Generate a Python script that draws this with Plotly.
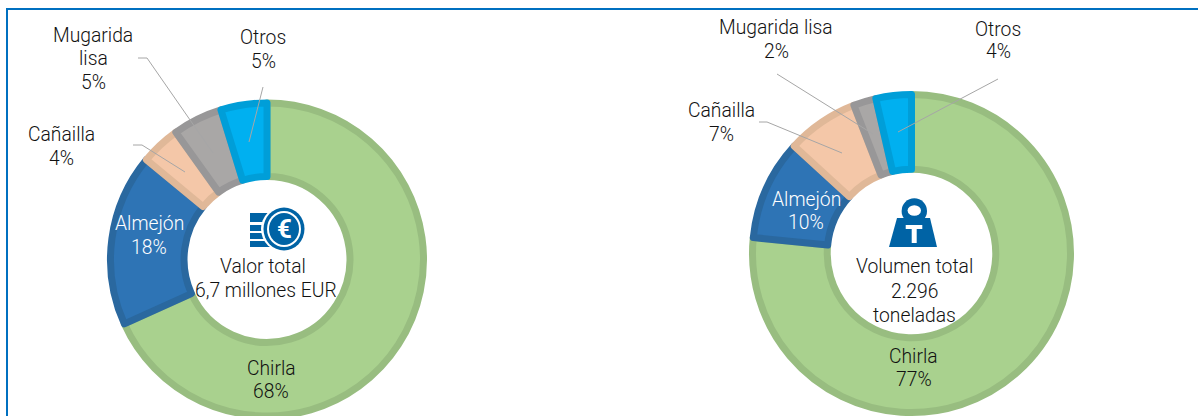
import plotly.graph_objects as go

W, H = 1198, 440
FONT = "Roboto"
TXT = "#111111"
ICON = "#0063A5"
GREY = "#A6A6A6"
FRAME = "#0070C0"

categories = ["Chirla", "Almejón", "Cañailla", "Mugarida lisa", "Otros"]
valor_values = [68.25, 17.75, 4.1, 5.15, 4.75]
volumen_values = [76.6, 10.2, 7.3, 2.3, 3.6]
fill_colors = ["#A9D18E", "#2E74B5", "#F4C7A8", "#A9A7A6", "#00B0F0"]
edge_colors = ["#98BD80", "#2A689F", "#E0B898", "#989798", "#009ED8"]

def X(px):
    return px / W

def Y(px):
    return 1 - px / H

def donut(values, cx, cy, r, hole, name):
    return go.Pie(
        labels=categories, values=values, name=name, hole=hole, sort=False,
        direction="clockwise", rotation=0, textinfo="none", showlegend=False,
        marker=dict(colors=fill_colors, line=dict(color=edge_colors, width=7)),
        domain=dict(x=[X(cx - r), X(cx + r)], y=[Y(cy + r), Y(cy - r)]),
    )

fig = go.Figure([
    donut(valor_values, 267, 259.5, 156.5, 0.53, "Valor"),
    donut(volumen_values, 911.5, 253.5, 159, 0.53, "Volumen"),
])

annotations = []

def label(text, x, y, color=TXT, size=19.3, weight=300):
    annotations.append(dict(text=text, x=X(x), y=Y(y), xref="paper", yref="paper",
                            showarrow=False, xanchor="center", yanchor="middle",
                            align="center",
                            font=dict(family=FONT, size=size, color=color, weight=weight)))

# left chart labels
label("Mugarida", 93, 35); label("lisa", 93, 59); label("5%", 93, 83)
label("Otros", 263, 37); label("5%", 263, 61)
label("Cañailla", 61, 134); label("4%", 61, 158)
label("Almejón", 149, 224, "#ffffff"); label("18%", 149, 248, "#ffffff")
label("Valor total", 263, 266); label("6,7 millones EUR", 266, 290)
label("Chirla", 271, 368); label("68%", 271, 391)
# right chart labels
label("Mugarida lisa", 776, 28); label("2%", 776, 51)
label("Otros", 998, 29); label("4%", 998, 52)
label("Cañailla", 721, 111); label("7%", 721, 134)
label("Almejón", 806, 199, "#ffffff"); label("10%", 806, 222, "#ffffff")
label("Volumen total", 915, 266); label("2.296", 915, 291); label("toneladas", 915, 315)
label("Chirla", 914, 356); label("77%", 914, 379)
# euro sign of the coin icon
label("€", 284, 229, "#ffffff", 26, 700)

shapes = []

def line(points):
    path = "M " + " L ".join(f"{X(x)} {Y(y)}" for x, y in points)
    shapes.append(dict(type="path", path=path, xref="paper", yref="paper",
                       line=dict(color=GREY, width=1), fillcolor="rgba(0,0,0,0)"))

def rect(x0, y0, x1, y1, color):
    shapes.append(dict(type="rect", xref="paper", yref="paper", x0=X(x0), x1=X(x1),
                       y0=Y(y0), y1=Y(y1), fillcolor=color, line=dict(width=0)))

def circle(cx, cy, rx, ry, color):
    shapes.append(dict(type="circle", xref="paper", yref="paper", x0=X(cx - rx), x1=X(cx + rx),
                       y0=Y(cy + ry), y1=Y(cy - ry), fillcolor=color, line=dict(width=0)))

def poly(points, color):
    path = "M " + " L ".join(f"{X(x)} {Y(y)}" for x, y in points) + " Z"
    shapes.append(dict(type="path", path=path, xref="paper", yref="paper",
                       fillcolor=color, line=dict(width=0)))

# frame
rect(6, 8, 1198, 10, FRAME)
rect(6, 8, 8, H, FRAME)

# leader lines
line([(138, 58), (147, 58), (213, 153)])
line([(133, 145), (142, 145), (185, 172)])
line([(263, 87), (249, 142)])
line([(777, 74), (873, 134)])
line([(759, 122), (767, 122), (842, 153)])
line([(998, 79), (898, 132)])

# coin icon
rect(250, 213, 272, 222, ICON)
rect(250, 225, 268, 231, ICON)
rect(250, 233, 268, 239, ICON)
rect(250, 241, 272, 247, ICON)
circle(284, 229, 23, 23, "#ffffff")
circle(284, 229, 20.5, 21.5, ICON)
circle(284, 229, 17, 18, "#ffffff")
circle(284, 229, 15, 16, ICON)

# weight icon
circle(914.3, 211, 12.7, 12.7, ICON)
circle(914.3, 210.5, 6.7, 5.3, "#ffffff")
poly([(897, 218), (930, 218), (937, 247), (889, 247)], ICON)
rect(905.7, 225, 922.3, 229, "#ffffff")
rect(911.7, 225, 916.7, 243, "#ffffff")

fig.update_layout(width=W, height=H, margin=dict(l=0, r=0, t=0, b=0),
                  paper_bgcolor="#ffffff", annotations=annotations, shapes=shapes)

fig.write_html("out.html", config=dict(displayModeBar=False), post_script=(
    "document.documentElement.style.overflow='hidden';"
    "document.body.style.margin='0';document.body.style.overflow='hidden';"))
